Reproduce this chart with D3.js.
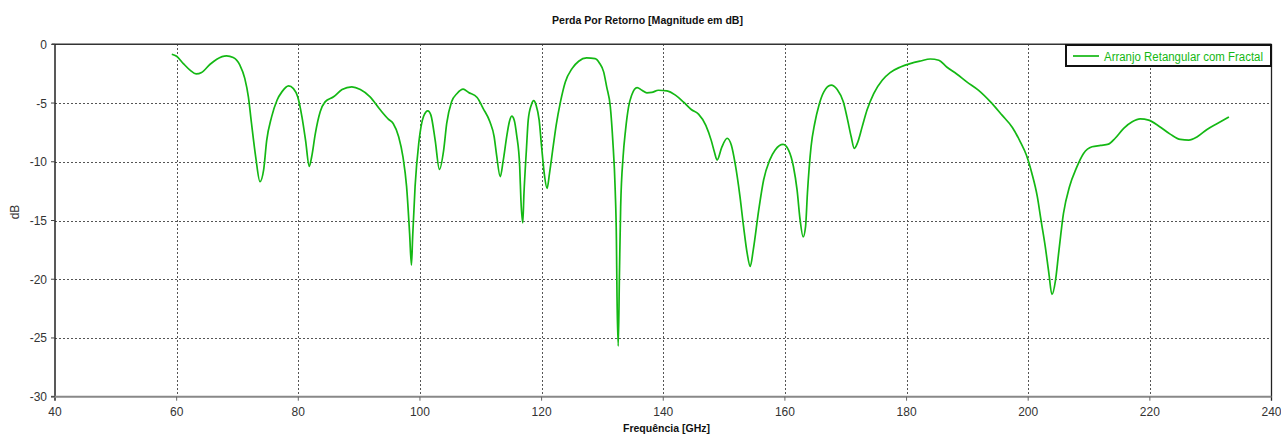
<!DOCTYPE html>
<meta charset="utf-8">
<style>
	body { margin: 0; background: #fff; }
	svg { display: block; font-family: "Liberation Sans", Arial, sans-serif; }
	.grid line { stroke: #555; stroke-width: 1; stroke-dasharray: 2,2; shape-rendering: crispEdges; }
	.tick-label { font-size: 12px; fill: #333; }
</style>

<div class="chart"></div>

<script src="https://d3js.org/d3.v7.min.js"></script>

<script>
	// frequência (GHz) e perda por retorno (dB)
	var freqGHz = [
		59.2, 60.0, 61.1, 62.2, 63.2, 64.1, 65.5, 66.6, 68.2, 69.3, 70.4, 71.2, 71.8, 72.3, 73.0, 73.7,
		74.3, 74.8, 75.6, 76.5, 77.3, 78.4, 79.2, 79.9, 80.6, 81.2, 81.8, 82.2, 82.8, 83.6, 84.4, 85.8,
		87.2, 88.8, 90.2, 91.8, 93.5, 94.8, 95.6, 96.5, 97.2, 97.8, 98.3, 98.6, 98.8, 99.2, 99.8, 100.6,
		101.3, 101.8, 102.5, 103.2, 103.9, 104.4, 105.2, 106.1, 107.1, 108.0, 109.4, 110.4, 111.5, 112.2,
		112.6, 113.2, 113.7, 114.3, 114.7, 115.1, 115.5, 115.9, 116.4, 116.6, 116.9, 117.1, 117.5, 117.8,
		118.3, 118.7, 119.1, 119.6, 120.0, 120.5, 120.9, 121.3, 121.9, 122.4, 123.1, 123.9, 125.0, 126.1,
		127.4, 128.8, 129.5, 130.2, 130.7, 131.3, 131.7, 132.1, 132.3, 132.4, 132.6, 132.8, 133.0, 133.4,
		133.8, 134.3, 134.8, 135.7, 136.5, 137.3, 138.1, 139.2, 140.6, 142.0, 143.3, 144.6, 145.8, 147.0,
		147.9, 148.4, 148.85, 149.6, 150.5, 151.2, 151.8, 152.6, 153.2, 153.8, 154.3, 154.8, 155.7, 156.5,
		157.5, 158.4, 159.7, 160.6, 161.4, 162.0, 162.5, 163.0, 163.4, 163.7, 164.3, 164.9, 165.6, 166.4,
		167.6, 168.6, 169.6, 170.2, 170.9, 171.4, 171.9, 172.7, 173.5, 174.6, 176.0, 177.3, 179.0, 180.6,
		182.3, 183.9, 185.3, 186.6, 188.3, 189.9, 191.8, 193.8, 195.7, 197.4, 198.7, 199.7, 200.6, 201.5,
		202.1, 202.8, 203.4, 203.9, 204.5, 205.0, 205.8, 206.8, 207.9, 209.1, 210.5, 211.9, 213.2, 214.3,
		215.7, 217.1, 218.4, 219.8, 221.5, 223.4, 225.0, 226.4, 227.8, 229.4, 231.1, 233.0
	];
	var returnLossDb = [
		-0.85, -1.02, -1.64, -2.2, -2.52, -2.4, -1.7, -1.27, -0.99, -1.13, -1.78, -2.9, -4.5, -6.7, -9.6, -11.7,
		-10.7, -8.2, -6.2, -4.76, -4.05, -3.54, -3.77, -4.47, -6.18, -8.2, -10.4, -9.57, -7.6, -5.75, -4.9, -4.47,
		-3.85, -3.62, -3.85, -4.47, -5.6, -6.37, -6.74, -7.87, -9.57, -12.1, -16.1, -18.8, -16.4, -12.1, -8.44, -6.12,
		-5.66, -6.03, -8.16, -10.65, -9.0, -6.74, -4.9, -4.19, -3.82, -4.1, -4.53, -5.47, -6.6, -7.87,
		-9.43, -11.27, -9.86, -7.73, -6.6, -6.12, -6.46, -7.73, -10.4, -13.25, -15.2, -12.7, -9.0, -6.46,
		-5.18, -4.8, -5.18, -6.46, -8.72, -11.27, -12.27, -10.98, -8.72, -6.88, -4.9, -3.2, -2.07, -1.44,
		-1.16, -1.22, -1.59, -2.35, -3.62, -5.33, -8.16, -12.4, -16.65, -21.5, -25.7, -19.5, -13.8, -9.57,
		-7.3, -5.33, -4.33, -3.68, -3.91, -4.13, -4.1, -3.91, -3.97, -4.33, -4.9, -5.55, -5.95, -6.9,
		-8.2, -9.15, -9.85, -8.8, -8.0, -8.6, -10.1, -12.9, -15.5, -17.8, -18.9, -17.5, -14.1, -11.55,
		-9.86, -9.0, -8.52, -9.0, -10.4, -12.4, -14.95, -16.4, -15.5, -12.7, -8.72, -6.74, -5.18, -4.05,
		-3.48, -3.85, -4.9, -6.18, -7.87, -8.86, -8.44, -7.03, -5.6, -4.19, -3.06, -2.41, -1.93, -1.64,
		-1.42, -1.25, -1.36, -1.93, -2.55, -3.2, -3.9, -4.9, -6.03, -7.08, -8.3, -9.43, -10.98, -12.97,
		-14.95, -17.2, -19.5, -21.3, -20.05, -17.8, -14.4, -12.1, -10.56, -9.29, -8.72, -8.61, -8.5, -8.0,
		-7.16, -6.6, -6.35, -6.46, -6.97, -7.67, -8.1, -8.16, -7.87, -7.25, -6.74, -6.18
	];
	var xTicks = [40, 60, 80, 100, 120, 140, 160, 180, 200, 220, 240];
	var yTicks = [0, -5, -10, -15, -20, -25, -30];
	var seriesName = "Arranjo Retangular com Fractal";

	var W = 1281, H = 435;
	var margin = {top: 44.3, right: 9.5, bottom: 38.3, left: 55};
	var green = "#14b814";

	var svg = d3.select('.chart')
			.append("svg")
			.attr("width", W)
			.attr("height", H);

	var x = d3.scaleLinear().domain([40, 240]).range([margin.left, W - margin.right]);
	var y = d3.scaleLinear().domain([-30, 0]).range([H - margin.bottom, margin.top]);

	// grade pontilhada
	var grid = svg.append("g").attr("class", "grid");
	grid.selectAll(".vg")
			.data(xTicks.slice(1, -1))
			.enter().append("line")
			.attr("x1", function(d) { return Math.round(x(d)) + 0.5; })
			.attr("x2", function(d) { return Math.round(x(d)) + 0.5; })
			.attr("y1", y(0))
			.attr("y2", y(-30));
	grid.selectAll(".hg")
			.data(yTicks.slice(1, -1))
			.enter().append("line")
			.attr("x1", x(40))
			.attr("x2", x(240))
			.attr("y1", function(d) { return Math.round(y(d)) + 0.5; })
			.attr("y2", function(d) { return Math.round(y(d)) + 0.5; });

	// moldura
	svg.append("line").attr("x1", x(40) - 3).attr("x2", x(240)).attr("y1", y(0)).attr("y2", y(0))
			.attr("stroke", "#333").attr("stroke-width", 1.5);
	svg.append("line").attr("x1", x(40)).attr("x2", x(40)).attr("y1", y(0)).attr("y2", y(-30) + 4)
			.attr("stroke", "#222").attr("stroke-width", 1.5);
	svg.append("line").attr("x1", x(240)).attr("x2", x(240)).attr("y1", y(0)).attr("y2", y(-30) + 4)
			.attr("stroke", "#222").attr("stroke-width", 1.3);
	svg.append("line").attr("x1", x(40) - 4).attr("x2", x(240)).attr("y1", y(-30)).attr("y2", y(-30))
			.attr("stroke", "#888").attr("stroke-width", 2);

	// marcas e rótulos do eixo x
	svg.selectAll(".xt")
			.data(xTicks.slice(1, -1))
			.enter().append("line")
			.attr("x1", function(d) { return x(d); })
			.attr("x2", function(d) { return x(d); })
			.attr("y1", y(-30))
			.attr("y2", y(-30) + 4)
			.attr("stroke", "#666");
	svg.selectAll(".xl")
			.data(xTicks)
			.enter().append("text")
			.attr("class", "tick-label")
			.attr("x", function(d) { return x(d); })
			.attr("y", 416)
			.attr("text-anchor", "middle")
			.text(function(d) { return d; });

	// marcas e rótulos do eixo y
	svg.selectAll(".yt")
			.data(yTicks)
			.enter().append("line")
			.attr("x1", x(40) - 4)
			.attr("x2", x(40))
			.attr("y1", function(d) { return y(d); })
			.attr("y2", function(d) { return y(d); })
			.attr("stroke", "#444");
	svg.selectAll(".yl")
			.data(yTicks)
			.enter().append("text")
			.attr("class", "tick-label")
			.attr("x", 47)
			.attr("y", function(d) { return y(d) + 4.5; })
			.attr("text-anchor", "end")
			.text(function(d) { return d; });

	// curva
	var points = freqGHz.map(function(f, i) { return [f, returnLossDb[i]]; });
	var line = d3.line()
			.x(function(d) { return x(d[0]); })
			.y(function(d) { return y(d[1]); })
			.curve(d3.curveMonotoneX);
	svg.append("path")
			.datum(points)
			.attr("d", line)
			.attr("fill", "none")
			.attr("stroke", green)
			.attr("stroke-width", 1.7)
			.attr("stroke-linejoin", "round");

	// títulos
	svg.append("text")
			.attr("x", 552).attr("y", 24)
			.attr("textLength", 191).attr("lengthAdjust", "spacingAndGlyphs")
			.style("font-size", "11px").style("font-weight", "bold").style("fill", "#111")
			.text("Perda Por Retorno [Magnitude em dB]");
	svg.append("text")
			.attr("x", 623).attr("y", 432)
			.attr("textLength", 87).attr("lengthAdjust", "spacingAndGlyphs")
			.style("font-size", "11px").style("font-weight", "bold").style("fill", "#111")
			.text("Frequência [GHz]");
	svg.append("text")
			.attr("transform", "translate(19,212) rotate(-90)")
			.attr("text-anchor", "middle")
			.style("font-size", "12px").style("fill", "#333")
			.text("dB");

	// legenda
	var lg = svg.append("g");
	lg.append("rect")
			.attr("x", 1066).attr("y", 45).attr("width", 205).attr("height", 21)
			.attr("fill", "#fff").attr("stroke", "#111").attr("stroke-width", 2);
	lg.append("line")
			.attr("x1", 1073).attr("x2", 1099).attr("y1", 56).attr("y2", 56)
			.attr("stroke", green).attr("stroke-width", 1.7);
	lg.append("text")
			.attr("x", 1104).attr("y", 60.5)
			.attr("textLength", 159).attr("lengthAdjust", "spacingAndGlyphs")
			.style("font-size", "12px").style("fill", green)
			.text(seriesName);
</script>
